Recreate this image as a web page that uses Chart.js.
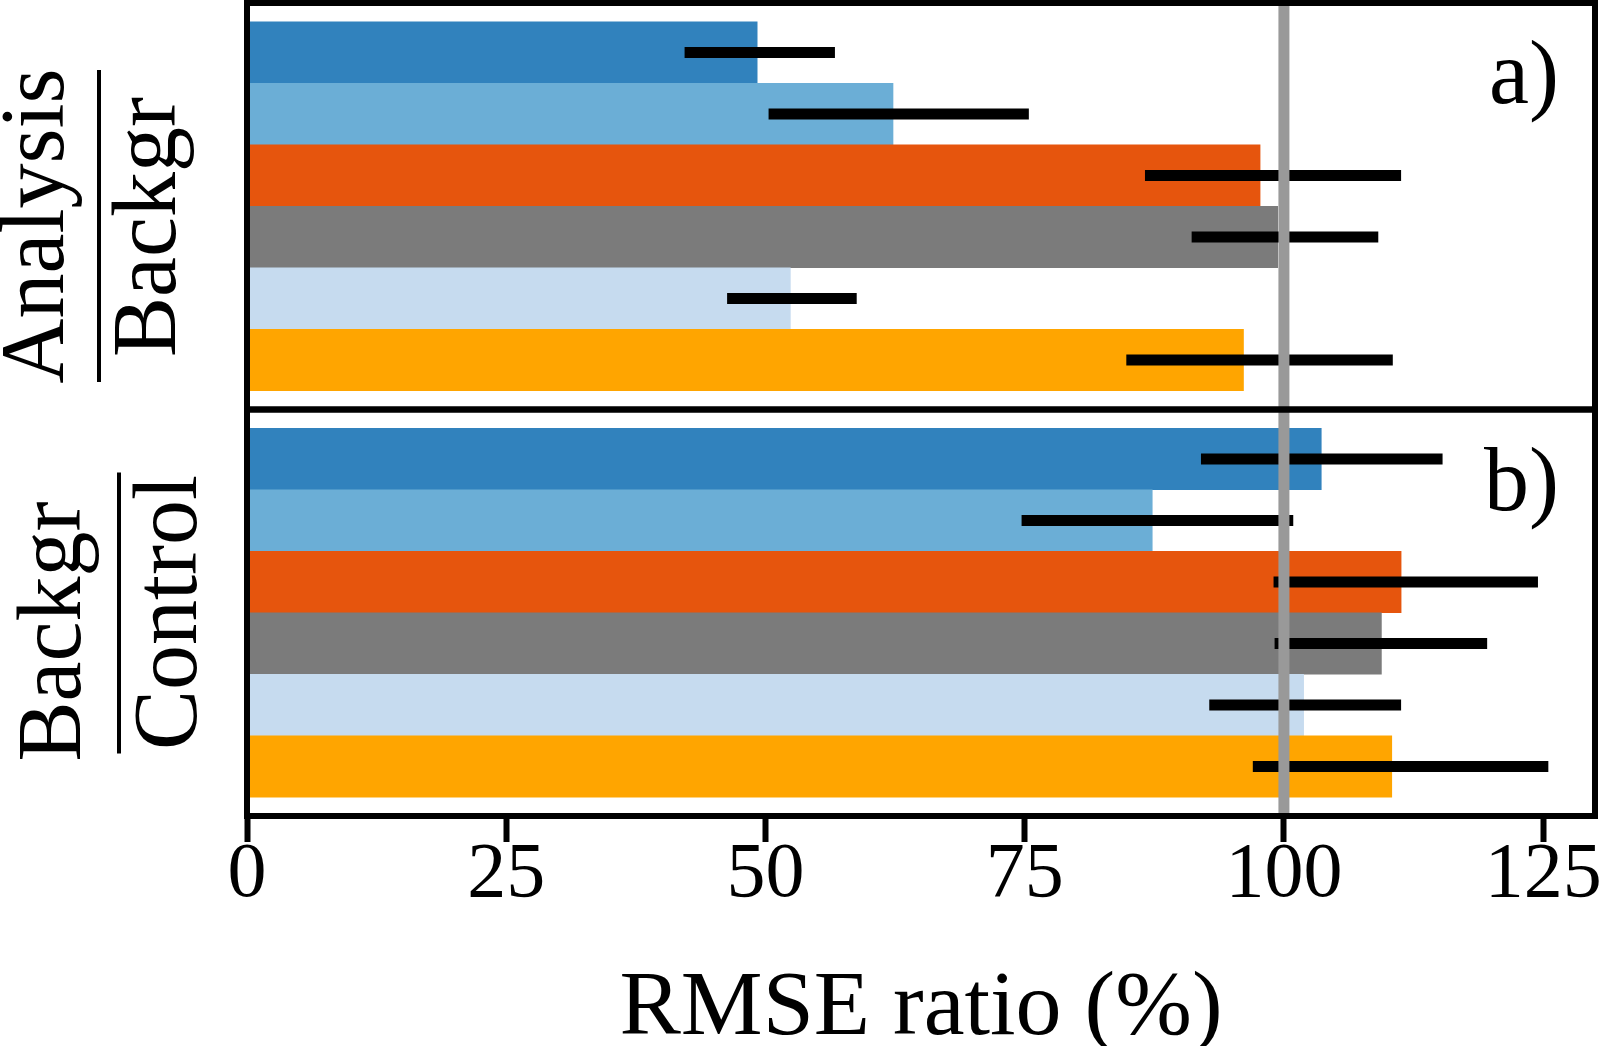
<!DOCTYPE html>
<html lang="en">
<head>
  <meta charset="UTF-8" />
  <title>RMSE ratio</title>
  <style>
    html, body { margin: 0; padding: 0; background: #fff; }
    #wrap { width: 1600px; height: 1046px; }
  </style>
</head>
<body>
  <div id="wrap"><canvas id="chart" width="1600" height="1046"></canvas></div>
  <script src="https://cdn.jsdelivr.net/npm/chart.js@4.4.1/dist/chart.umd.min.js"></script>
  <script>
    // bar order, top to bottom
    const rows = [0, 1, 2, 3, 4, 5];
    const barColors = ["#3182bd", "#6baed6", "#e6550d", "#7b7b7b", "#c6dbef", "#ffa500"];

    // panel a) Analysis / Backgr
    const valuesA = [49.2, 62.3, 97.7, 99.4, 52.4, 96.1];
    const errLowA = [42.2, 50.3, 86.6, 91.1, 46.3, 84.8];
    const errHighA = [56.7, 75.4, 111.3, 109.1, 58.8, 110.5];

    // panel b) Backgr / Control
    const valuesB = [103.6, 87.3, 111.3, 109.4, 101.9, 110.4];
    const errLowB = [92.0, 74.7, 99.0, 99.1, 92.8, 97.0];
    const errHighB = [115.3, 100.9, 124.5, 119.6, 111.3, 125.5];

    const xTicks = [0, 25, 50, 75, 100, 125];
    const refValue = 100;
    const panelTags = ["a)", "b)"];
    const fracA = ["Analysis", "Backgr"];
    const fracB = ["Backgr", "Control"];
    const xTitle = "RMSE ratio (%)";

    const serif = "'Liberation Serif', 'DejaVu Serif', serif";

    const toPoints = (vals) => vals.map((v, i) => ({ x: v, y: rows[i] }));

    const yPanel = (weight) => ({
      type: "linear",
      position: "left",
      stack: "panels",
      stackWeight: 1,
      weight: weight,
      reverse: true,
      offset: false,
      min: -0.805,
      max: 5.805,
      afterBuildTicks: (s) => { s.ticks = rows.map((v) => ({ value: v })); },
      ticks: { display: false },
      grid: { display: false },
      border: { display: false },
      afterFit: (s) => { s.width = 0; },
    });

    const extras = {
      id: "extras",
      afterDatasetsDraw(chart) {
        const { ctx, chartArea, scales } = chart;
        const x = scales.x;
        const sets = [
          [scales.ya, errLowA, errHighA],
          [scales.yb, errLowB, errHighB],
        ];
        ctx.save();
        // error bars
        ctx.strokeStyle = "#000";
        ctx.lineWidth = 11;
        ctx.lineCap = "butt";
        sets.forEach(([ys, lo, hi]) => {
          rows.forEach((r, i) => {
            const py = ys.getPixelForValue(r);
            ctx.beginPath();
            ctx.moveTo(x.getPixelForValue(lo[i]), py);
            ctx.lineTo(x.getPixelForValue(hi[i]), py);
            ctx.stroke();
          });
        });
        // reference line at 100 %
        const rx = x.getPixelForValue(refValue);
        ctx.strokeStyle = "#999999";
        ctx.lineWidth = 11;
        ctx.beginPath();
        ctx.moveTo(rx, chartArea.top);
        ctx.lineTo(rx, chartArea.bottom);
        ctx.stroke();
        ctx.restore();
      },
      afterDraw(chart) {
        const { ctx, chartArea, scales } = chart;
        const panels = [scales.ya, scales.yb];
        ctx.save();
        // frames
        ctx.strokeStyle = "#000";
        ctx.lineWidth = 6;
        panels.forEach((ys) => {
          ctx.strokeRect(chartArea.left, ys.top, chartArea.right - chartArea.left, ys.bottom - ys.top);
        });
        // panel tags
        ctx.fillStyle = "#000";
        ctx.font = "90px " + serif;
        ctx.textAlign = "right";
        ctx.textBaseline = "alphabetic";
        panels.forEach((ys, i) => {
          ctx.fillText(panelTags[i], chartArea.right - 36, ys.top + 100);
        });
        // rotated fraction labels
        const vtext = (txt, bx, cy) => {
          ctx.save();
          ctx.translate(bx, cy);
          ctx.rotate(-Math.PI / 2);
          ctx.textAlign = "center";
          ctx.fillText(txt, 0, 0);
          ctx.restore();
        };
        const rule = (lx, y0, y1) => {
          ctx.lineWidth = 4;
          ctx.beginPath();
          ctx.moveTo(lx, y0);
          ctx.lineTo(lx, y1);
          ctx.stroke();
        };
        const ta = panels[0].top, tb = panels[1].top;
        vtext(fracA[0], 63, ta + 223);
        rule(99, ta + 67, ta + 379);
        vtext(fracA[1], 175, ta + 224);
        vtext(fracB[0], 80, tb + 222);
        rule(119, tb + 63, tb + 344);
        vtext(fracB[1], 196, tb + 203);
        ctx.restore();
      },
    };

    new Chart(document.getElementById("chart"), {
      type: "bar",
      data: {
        datasets: [
          {
            data: toPoints(valuesA),
            yAxisID: "ya",
            backgroundColor: barColors,
            grouped: false,
            categoryPercentage: 1,
            barPercentage: 1,
          },
          {
            data: toPoints(valuesB),
            yAxisID: "yb",
            backgroundColor: barColors,
            grouped: false,
            categoryPercentage: 1,
            barPercentage: 1,
          },
        ],
      },
      options: {
        indexAxis: "y",
        responsive: false,
        animation: false,
        events: [],
        layout: { padding: { left: 247, right: 5, top: 3, bottom: 0 } },
        plugins: { legend: { display: false }, tooltip: { enabled: false } },
        scales: {
          x: {
            type: "linear",
            min: 0,
            max: 130,
            afterBuildTicks: (s) => { s.ticks = xTicks.map((v) => ({ value: v })); },
            afterFit: (s) => {
              s.height = 230;
              s.paddingLeft = 0;
              s.paddingRight = 0;
            },
            ticks: {
              autoSkip: false,
              maxRotation: 0,
              color: "#000",
              padding: -13,
              font: { family: serif, size: 78 },
            },
            grid: {
              drawOnChartArea: false,
              drawTicks: true,
              tickLength: 26,
              tickWidth: 6,
              tickColor: "#000",
            },
            border: { display: false },
            title: {
              display: true,
              text: xTitle,
              color: "#000",
              padding: { top: 0, bottom: -10 },
              font: { family: serif, size: 92, lineHeight: 1 },
            },
          },
          ya: yPanel(2),
          yb: yPanel(1),
        },
      },
      plugins: [extras],
    });
  </script>
</body>
</html>
